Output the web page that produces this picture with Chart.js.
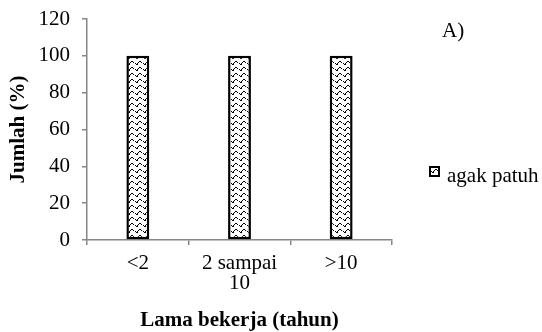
<!DOCTYPE html>
<html>
<head>
<meta charset="utf-8">
<script src="https://cdn.jsdelivr.net/npm/chart.js@4/dist/chart.umd.min.js"></script>
<style>
html,body{margin:0;padding:0;background:#fff;}
#wrap{width:542px;height:332px;position:relative;}
</style>
</head>
<body>
<div id="wrap"><canvas id="c" width="542" height="332"></canvas></div>
<script>
const categories = [['<2'], ['2 sampai', '10'], ['>10']];
const seriesLabel = 'agak patuh';
const seriesValues = [100, 100, 100];
const yTicks = [0, 20, 40, 60, 80, 100, 120];
const panelLabel = 'A)';

const FONT = "'Liberation Serif', 'Times New Roman', serif";
const AXIS = '#868686';

function makePattern() {
  const p = document.createElement('canvas');
  p.width = 8; p.height = 6;
  const g = p.getContext('2d');
  g.fillStyle = '#fff'; g.fillRect(0, 0, 8, 6);
  g.fillStyle = '#000';
  // wavy dashed motif
  g.fillRect(0, 4, 2, 1);
  g.fillRect(1, 3, 1, 1);
  g.fillRect(2, 2, 1, 1);
  g.fillRect(3, 1, 2, 1);
  g.fillRect(5, 2, 1, 1);
  g.fillRect(7, 3, 1, 1);
  return document.getElementById('c').getContext('2d').createPattern(p, 'repeat');
}
const pattern = makePattern();

const extras = {
  id: 'extras',
  afterDraw(chart) {
    const ctx = chart.ctx;
    ctx.save();
    ctx.fillStyle = '#000';
    ctx.font = '21px ' + FONT;
    ctx.textBaseline = 'middle';
    ctx.textAlign = 'left';
    ctx.fillText(panelLabel, 442, 31);
    // legend
    const bx = 430, by = 167, bs = 9;
    ctx.fillStyle = pattern;
    ctx.fillRect(bx, by, bs, bs);
    ctx.lineWidth = 2;
    ctx.strokeStyle = '#000';
    ctx.strokeRect(bx, by, bs, bs);
    ctx.fillStyle = '#000';
    ctx.fillText(chart.data.datasets[0].label, 447, 176);
    ctx.restore();
  }
};

new Chart(document.getElementById('c'), {
  type: 'bar',
  data: {
    labels: categories,
    datasets: [{
      label: seriesLabel,
      data: seriesValues,
      backgroundColor: pattern,
      borderColor: '#000',
      borderWidth: 2.5,
      borderSkipped: false,
      barPercentage: 0.9,
      categoryPercentage: 0.25
    }]
  },
  options: {
    responsive: false,
    animation: false,
    layout: { padding: { left: 0, top: 19, right: 150, bottom: 0 } },
    plugins: { legend: { display: false }, tooltip: { enabled: false } },
    scales: {
      y: {
        min: 0, max: 120,
        afterBuildTicks(s) { s.ticks = yTicks.map(v => ({ value: v })); },
        afterFit(s) { s.width = 87; s.paddingTop = 0; s.paddingBottom = 0; },
        ticks: { color: '#000', font: { family: FONT, size: 21 }, padding: 12 },
        grid: { drawOnChartArea: false, drawTicks: true, tickLength: 5, color: AXIS, lineWidth: 1.5 },
        border: { color: AXIS, width: 1.5 },
        title: { display: true, text: 'Jumlah (%)', color: '#000', font: { family: FONT, size: 21, weight: 'bold' }, padding: { top: 6, bottom: 0 } }
      },
      x: {
        afterFit(s) { s.height = 92; s.paddingLeft = 0; s.paddingRight = 0; },
        ticks: { color: '#000', font: { family: FONT, size: 21, lineHeight: 0.95 }, padding: 9, maxRotation: 0 },
        grid: { drawOnChartArea: false, drawTicks: true, tickLength: 5, color: AXIS, lineWidth: 1.5, offset: true },
        border: { color: AXIS, width: 1.5 },
        title: { display: true, text: 'Lama bekerja (tahun)', color: '#000', font: { family: FONT, size: 21, weight: 'bold', lineHeight: 1.0 }, padding: { top: 0, bottom: 1 } }
      }
    }
  },
  plugins: [extras]
});
</script>
</body>
</html>
